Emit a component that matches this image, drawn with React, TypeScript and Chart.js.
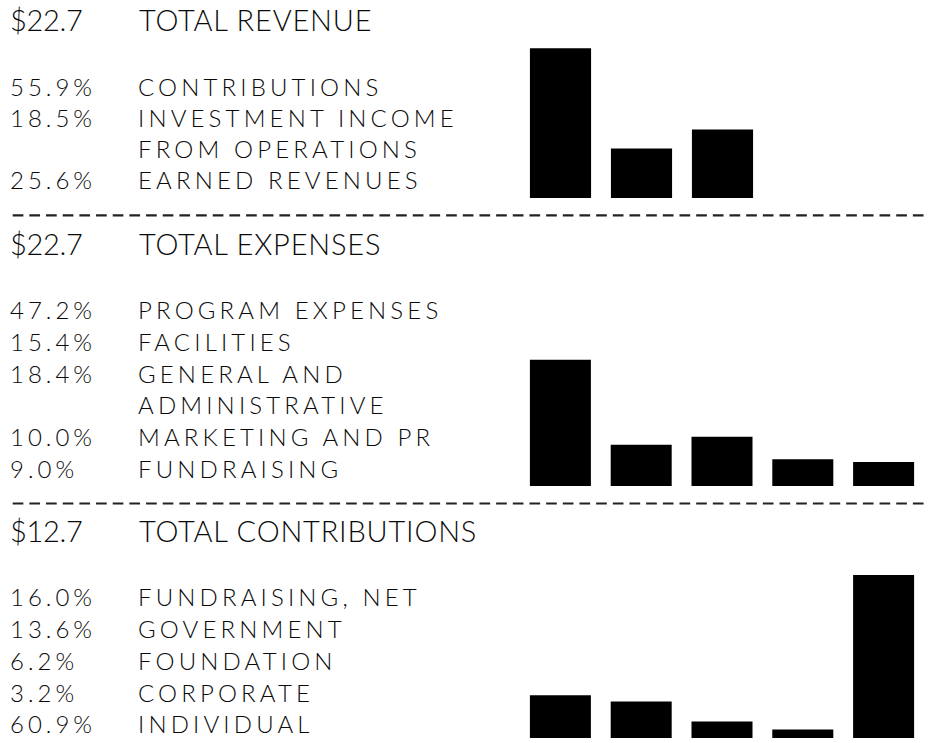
import React, { useEffect, useRef } from "react";
import { Chart, registerables } from "chart.js";

Chart.register(...registerables);

// ---------- DATA ----------
const revenueTotal = "$22.7";
const revenueTitle = "TOTAL REVENUE";
const revenueLabels: string[][] = [
  ["CONTRIBUTIONS"],
  ["INVESTMENT INCOME", "FROM OPERATIONS"],
  ["EARNED REVENUES"],
];
const revenueValues = [55.9, 18.5, 25.6];

const expenseTotal = "$22.7";
const expenseTitle = "TOTAL EXPENSES";
const expenseLabels: string[][] = [
  ["PROGRAM EXPENSES"],
  ["FACILITIES"],
  ["GENERAL AND", "ADMINISTRATIVE"],
  ["MARKETING AND PR"],
  ["FUNDRAISING"],
];
const expenseValues = [47.2, 15.4, 18.4, 10.0, 9.0];

const contributionTotal = "$12.7";
const contributionTitle = "TOTAL CONTRIBUTIONS";
const contributionLabels: string[][] = [
  ["FUNDRAISING, NET"],
  ["GOVERNMENT"],
  ["FOUNDATION"],
  ["CORPORATE"],
  ["INDIVIDUAL"],
];
const contributionValues = [16.0, 13.6, 6.2, 3.2, 60.9];

const yAxisMax = 62;

// ---------- LAYOUT ----------
const sections = [
  { total: revenueTotal, title: revenueTitle, labels: revenueLabels, values: revenueValues,
    headerY: 31, step: 31.1, chartTop: 32, chartWidth: 243, dashY: 215.3 },
  { total: expenseTotal, title: expenseTitle, labels: expenseLabels, values: expenseValues,
    headerY: 254.5, step: 31.8, chartTop: 320, chartWidth: 404, dashY: 503.5 },
  { total: contributionTotal, title: contributionTitle, labels: contributionLabels, values: contributionValues,
    headerY: 541.7, step: 31.8, chartTop: 572, chartWidth: 404, dashY: null as number | null },
];

const CHART_LEFT = 520;
const CHART_HEIGHT = 166;
const TEXT_COLOR = "#0a0a0a";
const HEADER_FONT = "Lato, 'Open Sans', sans-serif";
const ITEM_FONT = "Lato, 'Open Sans', sans-serif";

function BarChart(props: { labels: string[]; values: number[]; left: number; top: number; width: number; height: number }) {
  const ref = useRef<HTMLCanvasElement>(null);
  useEffect(() => {
    const chart = new Chart(ref.current as HTMLCanvasElement, {
      type: "bar",
      data: {
        labels: props.labels,
        datasets: [
          {
            data: props.values,
            backgroundColor: "#000000",
            borderWidth: 0,
            categoryPercentage: 1,
            barPercentage: 0.755,
          },
        ],
      },
      options: {
        responsive: false,
        maintainAspectRatio: false,
        animation: false,
        devicePixelRatio: 1,
        layout: { padding: 0 },
        plugins: {
          legend: { display: false },
          tooltip: { enabled: false },
          title: { display: false },
        },
        scales: {
          x: { display: false },
          y: { display: false, min: 0, max: yAxisMax },
        },
      },
    });
    return () => chart.destroy();
  }, []);
  return (
    <canvas
      ref={ref}
      width={props.width}
      height={props.height}
      style={{ position: "absolute", left: props.left, top: props.top, width: props.width, height: props.height }}
    />
  );
}

export default function App() {
  const texts: React.ReactNode[] = [];
  const dashes: React.ReactNode[] = [];
  sections.forEach((s, si) => {
    texts.push(
      <text key={`t${si}`} x={10} y={s.headerY} fontFamily={HEADER_FONT} fontWeight={300} fontSize={29} fill={TEXT_COLOR} style={{ letterSpacing: "-0.3px" }}>
        {s.total}
      </text>,
      <text key={`h${si}`} x={139} y={s.headerY} fontFamily={HEADER_FONT} fontWeight={300} fontSize={29} fill={TEXT_COLOR} style={{ letterSpacing: "0.8px" }}>
        {s.title}
      </text>
    );
    let y = s.headerY + 64.5;
    s.labels.forEach((lines, i) => {
      texts.push(
        <text key={`p${si}-${i}`} x={10} y={y} fontFamily={ITEM_FONT} fontWeight={300} fontSize={24} fill={TEXT_COLOR} style={{ letterSpacing: "4px" }}>
          {s.values[i].toFixed(1) + "%"}
        </text>
      );
      lines.forEach((ln, li) => {
        texts.push(
          <text key={`l${si}-${i}-${li}`} x={138} y={y} fontFamily={ITEM_FONT} fontWeight={300} fontSize={24} fill={TEXT_COLOR} style={{ letterSpacing: "4.15px" }}>
            {ln}
          </text>
        );
        y += s.step;
      });
    });
    if (s.dashY !== null) {
      dashes.push(
        <line key={`d${si}`} x1={12.7} x2={924} y1={s.dashY} y2={s.dashY} stroke="#222" strokeWidth={2.2} strokeDasharray="10.67 6" />
      );
    }
  });

  return (
    <div style={{ position: "absolute", left: 0, top: 0, width: 931, height: 743, background: "#fff", overflow: "hidden" }}>
      <svg width={931} height={743} style={{ position: "absolute", left: 0, top: 0 }}>
        {texts}
        {dashes}
      </svg>
      {sections.map((s, si) => (
        <BarChart
          key={si}
          labels={s.labels.map((l) => l.join(" "))}
          values={s.values}
          left={CHART_LEFT}
          top={s.chartTop}
          width={s.chartWidth}
          height={CHART_HEIGHT}
        />
      ))}
    </div>
  );
}
